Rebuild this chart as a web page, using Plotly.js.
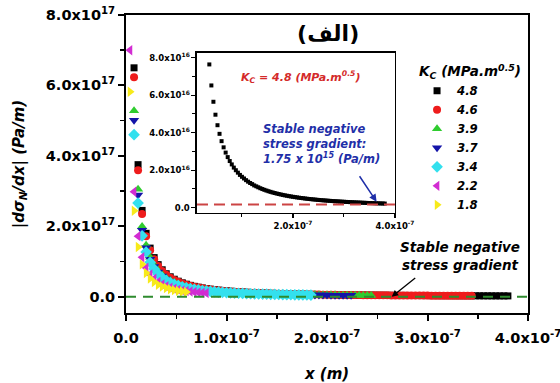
<!DOCTYPE html>
<html>
<head>
<meta charset="utf-8">
<script src="https://cdn.plot.ly/plotly-3.0.1.min.js"></script>
<style>html,body{margin:0;padding:0;background:#fff;}#chart{width:560px;height:383px;}</style>
</head>
<body>
<div id="chart"></div>
<script>
// ---- data (x in nm, |dσN/dx| in 1e15 Pa/m) ----
const seriesNames = ['4.8', '4.6', '3.9', '3.7', '3.4', '2.2', '1.8'];

const blackX = [8,12,16,20,24,28,32,36,40,44,48,52,56,60,64,68,72,76,80,84,88,92,96,100,104,108,112,116,120,124,128,132,136,140,144,148,152,156,160,164,168,172,176,180,184,188,192,196,200,204,208,212,216,220,224,228,232,236,240,244,248,252,256,260,264,268,272,276,280,284,288,292,296,300,304,308,312,316,320,324,328,332,336,340,344,348,352,356,360,364,368,372,376,380];
const blackY = [650,375,245,180,138,111,91,76.4,65.2,56.5,
  49.6,44,39.4,35.5,32.2,29.4,27,24.9,23.1,21.4,
  20,18.7,17.5,16.5,15.6,14.7,13.9,13.2,12.6,11.9,
  11.4,10.9,10.4,9.96,9.55,9.16,8.8,8.47,8.15,7.86,
  7.58,7.31,7.07,6.83,6.61,6.4,6.2,6.01,5.83,5.66,
  5.5,5.35,5.2,5.06,4.92,4.79,4.67,4.55,4.44,4.33,
  4.22,4.12,4.03,3.94,3.85,3.76,3.68,3.6,3.52,3.45,
  3.38,3.31,3.24,3.18,3.11,3.05,2.99,2.94,2.88,2.83,
  2.78,2.73,2.68,2.63,2.59,2.54,2.5,2.46,2.42,2.38,
  2.34,2.3,2.26,2.23];

const redX = [8,12,16,20,24,28,32,36,40,44,48,52,56,60,64,68,72,76,80,84,88,92,96,100,104,108,112,116,120,124,128,132,136,140,144,148,152,156,160,164,168,172,176,180,184,188,192,196,200,204,208,212,216,220,224,228,232,236,240,244,248,252,256,260,264,268,272,276,280,284,288,292,296,300,304,308,312,316,320,324,328,332,336,340,344];
const redY = [623,359,235,172,132,106,87.2,73.2,62.5,54.1,
  47.5,42.2,37.7,34,30.8,28.2,25.9,23.9,22.1,20.5,
  19.2,17.9,16.8,15.8,14.9,14.1,13.3,12.6,12.1,11.4,
  10.9,10.4,10,9.54,9.15,8.78,8.43,8.11,7.81,7.53,
  7.26,7,6.77,6.54,6.33,6.13,5.94,5.76,5.59,5.42,
  5.27,5.13,4.98,4.85,4.71,4.59,4.47,4.36,4.25,4.15,
  4.04,3.95,3.86,3.77,3.69,3.6,3.53,3.45,3.37,3.31,
  3.24,3.17,3.1,3.05,2.98,2.92,2.86,2.82,2.76,2.71,
  2.66,2.62,2.57,2.52,2.48];

const greenX = [8,12,16,20,24,28,32,36,40,44,48,52,56,60,64,68,72,76,80,84,88,92,96,100,104,108,112,116,120,124,128,132,136,140,144,148,152,156,160,164,168,172,176,180,184,188,192,196,200,204,208,212,216,220,224,228,232,236,240,244];
const greenY = [528,305,199,146,112,90.2,73.9,62.1,53,45.9,
  40.3,35.8,32,28.8,26.2,23.9,21.9,20.2,18.8,17.4,
  16.3,15.2,14.2,13.4,12.7,11.9,11.3,10.7,10.2,9.67,
  9.26,8.86,8.45,8.09,7.76,7.44,7.15,6.88,6.62,6.39,
  6.16,5.94,5.74,5.55,5.37,5.2,5.04,4.88,4.74,4.6,
  4.47,4.35,4.23,4.11,4,3.89,3.79,3.7,3.61,3.52];

const blueX = [8,12,16,20,24,28,32,36,40,44,48,52,56,60,64,68,72,76,80,84,88,92,96,100,104,108,112,116,120,124,128,132,136,140,144,148,152,156,160,164,168,172,176,180,184,188,192,196,200,204,208,212,216,220,224];
const blueY = [501,289,189,139,106,85.6,70.2,58.9,50.3,43.6,
  38.2,33.9,30.4,27.4,24.8,22.7,20.8,19.2,17.8,16.5,
  15.4,14.4,13.5,12.7,12,11.3,10.7,10.2,9.71,9.17,
  8.79,8.4,8.02,7.68,7.36,7.06,6.78,6.53,6.28,6.06,
  5.84,5.64,5.45,5.27,5.1,4.93,4.78,4.63,4.49,4.36,
  4.24,4.12,4.01,3.9,3.79];

const cyanX = [8,12,16,20,24,28,32,36,40,44,48,52,56,60,64,68,72,76,80,84,88,92,96,100,104,108,112,116,120,124,128,132,136,140,144,148,152,156,160,164,168,172,176,180,184];
const cyanY = [460,266,173,127,97.7,78.6,64.6,54.1,46.2,40,
  35.1,31.2,27.9,25.1,22.8,20.8,19.1,17.6,16.4,15.2,
  14.2,13.2,12.4,11.7,11,10.4,9.84,9.35,8.92,8.43,
  8.07,7.72,7.36,7.05,6.76,6.49,6.23,6,5.77,5.56,
  5.37,5.18,5.01,4.84,4.68];

const magentaX = [4,8,12,16,20,24,28,32,36,40,44,48,52,56,60,64,68,72,76,80];
const magentaY = [700,298,172,112,82.4,63.2,50.8,41.7,35,29.9,25.9,22.7,20.2,18,16.3,14.7,13.5,12.4,11.4,10.6];

const yellowX = [4,8,12,16,20,24,28,32,36,40,44,48,52,56,60];
const yellowY = [582,244,141,91.9,67.5,51.8,41.6,34.1,28.7,24.5,21.2,18.6,16.5,14.8,13.3];

const stableGradient = 1.75; // 1e15 Pa/m

// tick labels
const xTickVals = [0, 1e-7, 2e-7, 3e-7, 4e-7];
const xTickText = ['0.0', '1.0x10<sup>-7</sup>', '2.0x10<sup>-7</sup>', '3.0x10<sup>-7</sup>', '4.0x10<sup>-7</sup>'];
const xMinorVals = [0.5e-7, 1.5e-7, 2.5e-7, 3.5e-7];
const yTickVals = [0, 2e17, 4e17, 6e17, 8e17];
const yTickText = ['0.0', '2.0x10<sup>17</sup>', '4.0x10<sup>17</sup>', '6.0x10<sup>17</sup>', '8.0x10<sup>17</sup>'];
const yMinorVals = [1e17, 3e17, 5e17, 7e17];
const insetXTickVals = [2e-7, 4e-7];
const insetXTickText = ['2.0x10<sup>-7</sup>', '4.0x10<sup>-7</sup>'];
const insetXMinorVals = [1e-7, 3e-7];
const insetYTickVals = [0, 2e16, 4e16, 6e16, 8e16];
const insetYTickText = ['0.0', '2.0x10<sup>16</sup>', '4.0x10<sup>16</sup>', '6.0x10<sup>16</sup>', '8.0x10<sup>16</sup>'];
const insetYMinorVals = [1e16, 3e16, 5e16, 7e16];

// ---- build ----
const nm = a => a.map(v => v * 1e-9);
const e15 = a => a.map(v => v * 1e15);

const seriesDefs = [
  {x: blackX, y: blackY, color: '#000000', symbol: 'square', size: 7},
  {x: redX, y: redY, color: '#ee1c1c', symbol: 'circle', size: 8},
  {x: greenX, y: greenY, color: '#2fcc2f', symbol: 'triangle-up', size: 9},
  {x: blueX, y: blueY, color: '#1414a8', symbol: 'triangle-down', size: 9},
  {x: cyanX, y: cyanY, color: '#33e0ee', symbol: 'diamond', size: 9},
  {x: magentaX, y: magentaY, color: '#d22cd2', symbol: 'triangle-left', size: 9},
  {x: yellowX, y: yellowY, color: '#f7ea1a', symbol: 'triangle-right', size: 9}
];

const traces = seriesDefs.map((s, i) => ({
  type: 'scatter', mode: 'markers', name: seriesNames[i],
  x: nm(s.x), y: e15(s.y),
  marker: {color: s.color, symbol: s.symbol, size: s.size},
  xaxis: 'x', yaxis: 'y'
}));

traces.push({
  type: 'scatter', mode: 'markers', name: 'inset ' + seriesNames[0], showlegend: false,
  x: nm(blackX), y: e15(blackY),
  marker: {color: '#000000', symbol: 'square', size: 4},
  xaxis: 'x2', yaxis: 'y2'
});

const tickFont = {family: 'DejaVu Sans', size: 14.5, weight: 'bold', color: '#000'};
const insetTickFont = {family: 'DejaVu Sans', size: 8.5, weight: 'bold', color: '#000'};
const biFont = (size, color) => ({family: 'DejaVu Sans', size: size, weight: 'bold', style: 'italic', color: color || '#000'});

const layout = {
  width: 560, height: 383,
  margin: {l: 126, r: 32, t: 15, b: 70},
  paper_bgcolor: '#ffffff', plot_bgcolor: 'rgba(0,0,0,0)',
  font: {family: 'DejaVu Sans', color: '#000'},
  title: {text: '(الف)', font: {family: 'DejaVu Sans', size: 22, weight: 'bold', color: '#000'},
          x: 0.586, xanchor: 'center', y: 0.912, yanchor: 'middle'},
  showlegend: true,
  legend: {
    x: 0.724, xanchor: 'left', y: 0.853, yanchor: 'top',
    bgcolor: 'rgba(0,0,0,0)', borderwidth: 0,
    font: biFont(11.7),
    title: {text: 'K<sub>C</sub> (MPa.m<sup>0.5</sup>)', font: biFont(13.5)},
    itemwidth: 30
  },
  xaxis: {
    range: [0, 4e-7], tickmode: 'array', tickvals: xTickVals, ticktext: xTickText,
    ticks: 'outside', ticklen: 6, tickwidth: 2, tickcolor: '#000', ticklabelstandoff: 5,
    ticklabeloverflow: 'allow',
    showline: true, linewidth: 2, linecolor: '#000', mirror: true,
    showgrid: false, zeroline: false, tickfont: tickFont, automargin: false,
    minor: {tickmode: 'array', tickvals: xMinorVals, ticks: 'outside', ticklen: 4, tickwidth: 1.5, tickcolor: '#000', showgrid: false},
    title: {text: 'x (m)', font: biFont(15), standoff: 26}
  },
  yaxis: {
    range: [-0.463e17, 8e17], tickmode: 'array', tickvals: yTickVals, ticktext: yTickText,
    ticks: 'outside', ticklen: 6, tickwidth: 2, tickcolor: '#000',
    showline: true, linewidth: 2, linecolor: '#000', mirror: true,
    showgrid: false, zeroline: false, tickfont: tickFont, automargin: false,
    minor: {tickmode: 'array', tickvals: yMinorVals, ticks: 'outside', ticklen: 4, tickwidth: 1.5, tickcolor: '#000', showgrid: false},
    title: {text: '|dσ<sub>N</sub>/dx| (Pa/m)', font: biFont(15), standoff: 18}
  },
  xaxis2: {
    domain: [0.1766, 0.669], anchor: 'y2', range: [1.18e-8, 4e-7],
    tickmode: 'array', tickvals: insetXTickVals, ticktext: insetXTickText,
    ticks: 'outside', ticklen: 4, tickwidth: 1.2, tickcolor: '#000', ticklabeloverflow: 'allow',
    showline: true, linewidth: 1.5, linecolor: '#000', mirror: true,
    showgrid: false, zeroline: false, tickfont: insetTickFont, automargin: false,
    minor: {tickmode: 'array', tickvals: insetXMinorVals, ticks: 'outside', ticklen: 3, tickwidth: 1, tickcolor: '#000', showgrid: false}
  },
  yaxis2: {
    domain: [0.3356, 0.8725], anchor: 'x2', range: [-2.8e15, 8.25e16],
    tickmode: 'array', tickvals: insetYTickVals, ticktext: insetYTickText,
    ticks: 'outside', ticklen: 4, tickwidth: 1.2, tickcolor: '#000',
    showline: true, linewidth: 1.5, linecolor: '#000', mirror: true,
    showgrid: false, zeroline: false, tickfont: insetTickFont, automargin: false,
    minor: {tickmode: 'array', tickvals: insetYMinorVals, ticks: 'outside', ticklen: 3, tickwidth: 1, tickcolor: '#000', showgrid: false}
  },
  shapes: [
    {type: 'line', xref: 'paper', x0: 0, x1: 1, yref: 'y', y0: 0, y1: 0,
     line: {color: '#2e8b2e', width: 2, dash: '10px,7px'}, layer: 'above'},
    {type: 'line', xref: 'x2 domain', x0: 0, x1: 1, yref: 'y2', y0: stableGradient * 1e15, y1: stableGradient * 1e15,
     line: {color: '#cc4444', width: 2, dash: '11px,6px'}, layer: 'above'}
  ],
  annotations: [
    {xref: 'paper', yref: 'paper', x: 0.831, y: 0.192, xanchor: 'center', yanchor: 'middle',
     text: 'Stable negative<br>stress gradient', showarrow: false, font: biFont(13.5), align: 'center'},
    {xref: 'x', yref: 'y', x: 2.644e-7, y: 0, ax: 25, ay: -20, text: '', showarrow: true,
     arrowhead: 2, arrowsize: 1, arrowwidth: 1.3, arrowcolor: '#000'},
    {xref: 'paper', yref: 'paper', x: 0.433, y: 0.792, xanchor: 'center', yanchor: 'middle',
     text: 'K<sub>C</sub> = 4.8 (MPa.m<sup>0.5</sup>)', showarrow: false, font: biFont(11, '#d42a2a')},
    {xref: 'paper', yref: 'paper', x: 0.335, xanchor: 'left', y: 0.566, yanchor: 'middle', align: 'left',
     text: 'Stable negative<br>stress gradient:<br>1.75 x 10<sup>15</sup> (Pa/m)', showarrow: false, font: biFont(11.5, '#1f2fa8')},
    {xref: 'x2', yref: 'y2', x: 3.64e-7, y: 3.2e15, ax: -18, ay: -27, text: '', showarrow: true,
     arrowhead: 2, arrowsize: 1, arrowwidth: 1.5, arrowcolor: '#1f2fa8'}
  ]
};

Plotly.newPlot('chart', traces, layout, {displayModeBar: false, staticPlot: true});
</script>
</body>
</html>
